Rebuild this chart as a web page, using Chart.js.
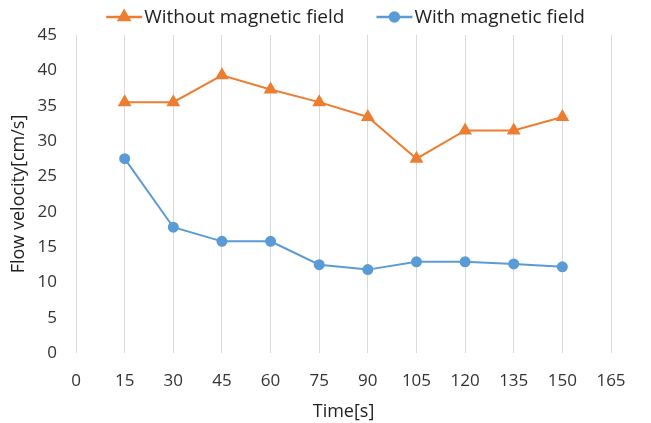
<!DOCTYPE html>
<html>
<head>
<meta charset="utf-8">
<script src="https://cdn.jsdelivr.net/npm/chart.js@4"></script>
<style>
  html, body { margin: 0; padding: 0; background: #fff; }
  #wrap { width: 651px; height: 423px; }
</style>
</head>
<body>
<div id="wrap"><canvas id="chart"></canvas></div>
<script>
// data
let timeValues = [15, 30, 45, 60, 75, 90, 105, 120, 135, 150];
let withoutField = [35.5, 35.5, 39.3, 37.3, 35.5, 33.4, 27.5, 31.5, 31.5, 33.4];
let withField = [27.5, 17.8, 15.8, 15.8, 12.5, 11.8, 12.9, 12.9, 12.6, 12.2];
let seriesNames = ['Without magnetic field', 'With magnetic field'];

let orange = '#ED7D31';
let blue = '#5B9BD5';
let fontFamily = "'Open Sans', 'Liberation Sans', sans-serif";

function toPoints(values) {
  return timeValues.map((t, i) => ({ x: t, y: values[i] }));
}

// legend drawn by hand so it shows line + marker like the original
let lineLegend = {
  id: 'lineLegend',
  afterDraw(chart) {
    let ctx = chart.ctx;
    let items = chart.data.datasets;
    ctx.save();
    ctx.font = '19px ' + fontFamily;
    ctx.textBaseline = 'middle';
    let y = 17;
    let sampleW = 36;
    let gap = 32;
    let widths = items.map(d => sampleW + 2 + ctx.measureText(d.label).width);
    let total = widths.reduce((a, b) => a + b, 0) + gap * (items.length - 1);
    let x = (chart.width - total) / 2 + 20;
    items.forEach((d, i) => {
      ctx.strokeStyle = d.borderColor;
      ctx.lineWidth = 2.5;
      ctx.beginPath();
      ctx.moveTo(x, y);
      ctx.lineTo(x + sampleW, y);
      ctx.stroke();
      Chart.helpers.drawPoint(ctx, {
        pointStyle: d.pointStyle,
        radius: d.pointRadius,
        borderWidth: 1
      }, x + sampleW / 2, y);
      ctx.fillStyle = d.borderColor;
      ctx.fill();
      ctx.fillStyle = '#222';
      ctx.fillText(d.label, x + sampleW + 2, y + 1);
      x += widths[i] + gap;
    });
    ctx.restore();
  }
};

let ctx = document.getElementById('chart').getContext('2d');
let chart = new Chart(ctx, {
  type: 'line',
  data: {
    datasets: [{
      label: seriesNames[0],
      data: toPoints(withoutField),
      borderColor: orange,
      backgroundColor: orange,
      borderWidth: 2,
      pointStyle: 'triangle',
      pointRadius: 6,
      pointHoverRadius: 6
    }, {
      label: seriesNames[1],
      data: toPoints(withField),
      borderColor: blue,
      backgroundColor: blue,
      borderWidth: 2,
      pointStyle: 'circle',
      pointRadius: 4.5,
      pointHoverRadius: 4.5
    }]
  },
  options: {
    responsive: true,
    maintainAspectRatio: false,
    animation: false,
    layout: { padding: { top: 35, right: 40, left: 8, bottom: 0 } },
    scales: {
      x: {
        type: 'linear',
        min: 0,
        max: 165,
        ticks: {
          stepSize: 15,
          color: '#333',
          font: { family: fontFamily, size: 17 },
          padding: 18
        },
        grid: { color: '#d9d9d9', lineWidth: 1, drawTicks: false },
        border: { display: false },
        title: {
          display: true,
          text: 'Time[s]',
          color: '#222',
          font: { family: fontFamily, size: 18 },
          padding: { top: -8, bottom: 0 }
        }
      },
      y: {
        min: 0,
        max: 45,
        ticks: {
          stepSize: 5,
          color: '#333',
          font: { family: fontFamily, size: 17 },
          padding: 11
        },
        grid: { display: false },
        border: { display: false },
        title: {
          display: true,
          text: 'Flow velocity[cm/s]',
          color: '#222',
          font: { family: fontFamily, size: 18 },
          padding: { top: 0, bottom: -3 }
        }
      }
    },
    plugins: {
      legend: { display: false },
      tooltip: { enabled: false }
    }
  },
  plugins: [lineLegend]
});
</script>
</body>
</html>
